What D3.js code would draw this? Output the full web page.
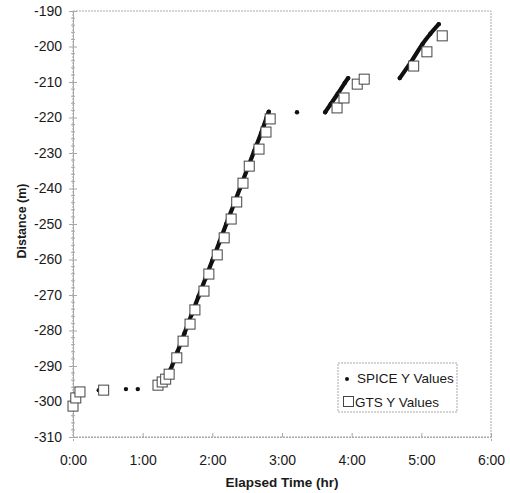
<!DOCTYPE html>
<html><head><meta charset="utf-8">
<script src="https://cdn.jsdelivr.net/npm/d3@7"></script>
<style>
html,body{margin:0;padding:0;background:#fff;}
svg{display:block;font-family:"Liberation Sans",Arial,sans-serif;}
</style></head>
<body><svg id="c" width="510" height="493"></svg>
<script>
// ---- data ----
const xTickValues = [0, 1, 2, 3, 4, 5, 6];
const xTickLabels = ["0:00", "1:00", "2:00", "3:00", "4:00", "5:00", "6:00"];
const yTickValues = [-310, -300, -290, -280, -270, -260, -250, -240, -230, -220, -210, -200, -190];

// SPICE Y Values (elapsed hours, distance m); run groups contiguous samples
const spiceT = [0.37, 0.76, 0.93,
  1.34, 1.40, 1.50, 1.60, 1.70, 1.80, 1.90, 2.00, 2.10, 2.20, 2.30, 2.40, 2.50, 2.60, 2.70, 2.78, 2.81,
  3.215,
  3.62, 3.70, 3.80, 3.90, 3.95,
  4.69, 4.85, 5.02, 5.13, 5.25];
const spiceY = [-296.8, -296.5, -296.5,
  -293.6, -291.0, -286.0, -280.8, -275.6, -270.5, -265.4, -260.3, -255.2, -250.0, -244.9, -239.8, -234.6, -229.5, -224.4, -220.0, -218.4,
  -218.5,
  -218.5, -216.2, -213.3, -210.3, -208.9,
  -208.9, -204.4, -199.2, -196.4, -193.7];
const spiceRun = [0, 1, 2,
  3, 3, 3, 3, 3, 3, 3, 3, 3, 3, 3, 3, 3, 3, 3, 3, 3,
  4,
  5, 5, 5, 5, 5,
  6, 6, 6, 6, 6];

// GTS Y Values
const gtsT = [0.00, 0.04, 0.10, 0.44, 1.22, 1.28, 1.33, 1.38, 1.49, 1.58, 1.68, 1.75, 1.88, 1.95, 2.07, 2.17,
  2.27, 2.35, 2.44, 2.53, 2.67, 2.77, 2.83, 3.79, 3.89, 4.08, 4.18, 4.89, 5.08, 5.30];
const gtsY = [-301.3, -299.0, -297.3, -296.8, -295.4, -294.5, -293.7, -292.3, -287.7, -283.0, -278.2, -274.2, -268.9, -264.1, -258.7, -253.9,
  -248.6, -243.8, -238.5, -233.7, -228.9, -224.1, -220.4, -217.3, -214.5, -210.6, -209.2, -205.5, -201.5, -197.0];

// ---- chart ----
const svg = d3.select("#c");
const L = 73, R = 491, T = 11, B = 437;
const x = d3.scaleLinear().domain([0, 6]).range([L, R]);
const y = d3.scaleLinear().domain([-310, -190]).range([B, T]);
const grey = "#a8a8a8";

// frame (dotted light grey)
svg.append("rect").attr("x", L).attr("y", T).attr("width", R - L).attr("height", B - T)
  .attr("fill", "none").attr("stroke", grey).attr("stroke-width", 1).attr("stroke-dasharray", "2,1");

// y axis
const yAxis = d3.axisLeft(y).tickValues(yTickValues).tickSize(4).tickPadding(7).tickFormat(d => d);
const gy = svg.append("g").attr("transform", `translate(${L},0)`).call(yAxis);
gy.select(".domain").attr("stroke", grey);
gy.selectAll(".tick line").attr("stroke", grey).attr("x2", 4).attr("x1", -4);
gy.selectAll(".tick text").attr("font-size", 14).attr("fill", "#1a1a1a").attr("x", -11);
// minor y ticks every 2 m
const minorY = d3.range(-310, -189, 2).filter(v => v % 10 !== 0);
svg.append("g").selectAll("line").data(minorY).join("line")
  .attr("x1", L - 2).attr("x2", L + 2).attr("y1", d => y(d)).attr("y2", d => y(d))
  .attr("stroke", grey).attr("stroke-width", 1);

// x axis
const xAxis = d3.axisBottom(x).tickValues(xTickValues).tickSize(4).tickPadding(14)
  .tickFormat((d, i) => xTickLabels[i]);
const gx = svg.append("g").attr("transform", `translate(0,${B})`).call(xAxis);
gx.select(".domain").attr("stroke", grey).attr("stroke-dasharray", "2,1");
gx.selectAll(".tick line").attr("stroke", grey).attr("y1", -4).attr("y2", 0);
gx.selectAll(".tick text").attr("font-size", 14).attr("fill", "#1a1a1a");

// axis titles
svg.append("text").attr("x", (L + R) / 2).attr("y", 487).attr("text-anchor", "middle")
  .attr("font-size", 13.5).attr("font-weight", "bold").attr("fill", "#1a1a1a").text("Elapsed Time (hr)");
svg.append("text").attr("transform", "translate(26,221) rotate(-90)").attr("text-anchor", "middle")
  .attr("font-size", 12.5).attr("font-weight", "bold").attr("fill", "#1a1a1a").text("Distance (m)");

// SPICE series
const spice = spiceT.map((t, i) => ({ t, v: spiceY[i], run: spiceRun[i] }));
const runs = d3.groups(spice, d => d.run).map(g => g[1]);
const line = d3.line().x(d => x(d.t)).y(d => y(d.v)).curve(d3.curveCatmullRom);
svg.append("g").selectAll("path").data(runs.filter(r => r.length > 1)).join("path")
  .attr("d", line).attr("fill", "none").attr("stroke", "#111").attr("stroke-width", 4.2)
  .attr("stroke-linecap", "round").attr("stroke-linejoin", "round");
svg.append("g").selectAll("circle").data(spice).join("circle")
  .attr("cx", d => x(d.t)).attr("cy", d => y(d.v)).attr("r", 2.2).attr("fill", "#111");

// GTS series
const S = 10;
svg.append("g").selectAll("rect").data(gtsT.map((t, i) => ({ t, v: gtsY[i] }))).join("rect")
  .attr("x", d => x(d.t) - S / 2).attr("y", d => y(d.v) - S / 2).attr("width", S).attr("height", S)
  .attr("fill", "#fff").attr("stroke", "#444").attr("stroke-width", 1);

// legend
const lg = svg.append("g");
lg.append("rect").attr("x", 338).attr("y", 363).attr("width", 119).attr("height", 49)
  .attr("fill", "#fff").attr("stroke", grey).attr("stroke-dasharray", "2,1");
lg.append("circle").attr("cx", 347).attr("cy", 379).attr("r", 2).attr("fill", "#111");
lg.append("text").attr("x", 357).attr("y", 383).attr("font-size", 13.5).attr("fill", "#1a1a1a").text("SPICE Y Values");
lg.append("rect").attr("x", 343.5).attr("y", 396.5).attr("width", 10).attr("height", 10)
  .attr("fill", "#fff").attr("stroke", "#444");
lg.append("text").attr("x", 355).attr("y", 407).attr("font-size", 13.5).attr("fill", "#1a1a1a").text("GTS Y Values");
</script></body></html>
